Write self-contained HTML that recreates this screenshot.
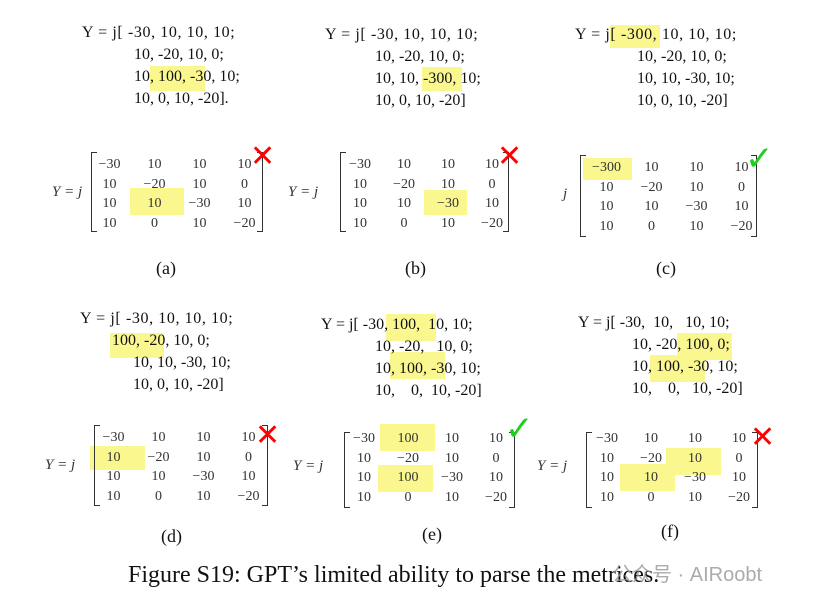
<!DOCTYPE html>
<html><head><meta charset="utf-8"><style>
body{margin:0;width:830px;height:603px;background:#fff;position:relative;overflow:hidden;font-family:"Liberation Serif",serif;color:#111}
.t{position:absolute;white-space:pre;font-size:16px;line-height:22px}
.f{letter-spacing:0.6px}
.h{position:absolute;background:#fbf78f}
.m{position:absolute;border-collapse:collapse;font-size:14px;color:#333}
.m td{padding:0;height:19.5px;line-height:19.5px;text-align:center}
.bl,.br{position:absolute;width:5px;border:1.6px solid #333}
.bl{border-right:none}.br{border-left:none}
.y{position:absolute;font-style:italic;font-size:15px;color:#333}
.lab{position:absolute;font-size:18px}
.x{position:absolute;color:#f00;font-size:30px;font-weight:bold;font-family:"DejaVu Sans",sans-serif;line-height:30px}
.ck{position:absolute;color:#1ed01e;font-size:34px;font-family:"DejaVu Sans",sans-serif;line-height:34px}
</style></head><body>
<div class="h" style="left:150px;top:66px;width:55px;height:25px"></div>
<div class="h" style="left:130px;top:188px;width:54px;height:27px"></div>
<div class="h" style="left:422px;top:67px;width:40px;height:24px"></div>
<div class="h" style="left:424px;top:190px;width:43px;height:25px"></div>
<div class="h" style="left:610px;top:25px;width:50px;height:23px"></div>
<div class="h" style="left:583px;top:158px;width:49px;height:22px"></div>
<div class="h" style="left:110px;top:333px;width:54px;height:25px"></div>
<div class="h" style="left:90px;top:446px;width:55px;height:24px"></div>
<div class="h" style="left:386px;top:314px;width:50px;height:27px"></div>
<div class="h" style="left:390px;top:352px;width:55px;height:27px"></div>
<div class="h" style="left:380px;top:424px;width:55px;height:27px"></div>
<div class="h" style="left:378px;top:465px;width:55px;height:27px"></div>
<div class="h" style="left:677px;top:333px;width:55px;height:27px"></div>
<div class="h" style="left:650px;top:355px;width:55px;height:27px"></div>
<div class="h" style="left:666px;top:448px;width:55px;height:27px"></div>
<div class="h" style="left:620px;top:464px;width:55px;height:27px"></div>

<div class="t f" style="left:82px;top:22px">Y = j[ -30, 10, 10, 10;</div>
<div class="t" style="left:134px;top:44px">10, -20, 10, 0;
10, 100, -30, 10;
10, 0, 10, -20].</div>
<div class="t f" style="left:325px;top:24px">Y = j[ -30, 10, 10, 10;</div>
<div class="t" style="left:375px;top:46px">10, -20, 10, 0;
10, 10, -300, 10;
10, 0, 10, -20]</div>
<div class="t f" style="left:575px;top:24px">Y = j[ -300, 10, 10, 10;</div>
<div class="t" style="left:637px;top:46px">10, -20, 10, 0;
10, 10, -30, 10;
10, 0, 10, -20]</div>
<div class="t f" style="left:80px;top:308px">Y = j[ -30, 10, 10, 10;</div>
<div class="t" style="left:112px;top:330px">100, -20, 10, 0;</div>
<div class="t" style="left:133px;top:352px">10, 10, -30, 10;
10, 0, 10, -20]</div>
<div class="t" style="left:321px;top:314px">Y = j[ -30, 100,  10, 10;</div>
<div class="t" style="left:375px;top:336px">10, -20,   10, 0;
10, 100, -30, 10;
10,    0,  10, -20]</div>
<div class="t" style="left:578px;top:312px">Y = j[ -30,  10,   10, 10;</div>
<div class="t" style="left:632px;top:334px">10, -20, 100, 0;
10, 100, -30, 10;
10,    0,   10, -20]</div>

<div class="y" style="left:52px;top:184px">Y = j</div>
<div class="bl" style="left:91px;top:152px;height:78px"></div>
<div class="br" style="left:257px;top:152px;height:78px"></div>
<table class="m" style="left:87px;top:155px"><tr><td style="width:45px">−30</td><td style="width:45px">10</td><td style="width:45px">10</td><td style="width:45px">10</td></tr><tr><td>10</td><td>−20</td><td>10</td><td>0</td></tr><tr><td>10</td><td>10</td><td>−30</td><td>10</td></tr><tr><td>10</td><td>0</td><td>10</td><td>−20</td></tr></table>
<div class="x" style="left:250px;top:142px">✕</div>
<div class="lab" style="left:156px;top:258px">(a)</div>

<div class="y" style="left:288px;top:184px">Y = j</div>
<div class="bl" style="left:340px;top:152px;height:78px"></div>
<div class="br" style="left:503px;top:152px;height:78px"></div>
<table class="m" style="left:338px;top:155px"><tr><td style="width:44px">−30</td><td style="width:44px">10</td><td style="width:44px">10</td><td style="width:44px">10</td></tr><tr><td>10</td><td>−20</td><td>10</td><td>0</td></tr><tr><td>10</td><td>10</td><td>−30</td><td>10</td></tr><tr><td>10</td><td>0</td><td>10</td><td>−20</td></tr></table>
<div class="x" style="left:497px;top:142px">✕</div>
<div class="lab" style="left:405px;top:258px">(b)</div>

<div class="y" style="left:563px;top:186px">j</div>
<div class="bl" style="left:580px;top:155px;height:80px"></div>
<div class="br" style="left:751px;top:155px;height:80px"></div>
<table class="m" style="left:584px;top:158px"><tr><td style="width:45px">−300</td><td style="width:45px">10</td><td style="width:45px">10</td><td style="width:45px">10</td></tr><tr><td>10</td><td>−20</td><td>10</td><td>0</td></tr><tr><td>10</td><td>10</td><td>−30</td><td>10</td></tr><tr><td>10</td><td>0</td><td>10</td><td>−20</td></tr></table>
<div class="ck" style="left:745px;top:142px">✓</div>
<div class="lab" style="left:656px;top:258px">(c)</div>

<div class="y" style="left:45px;top:457px">Y = j</div>
<div class="bl" style="left:94px;top:425px;height:79px"></div>
<div class="br" style="left:262px;top:425px;height:79px"></div>
<table class="m" style="left:91px;top:428px"><tr><td style="width:45px">−30</td><td style="width:45px">10</td><td style="width:45px">10</td><td style="width:45px">10</td></tr><tr><td>10</td><td>−20</td><td>10</td><td>0</td></tr><tr><td>10</td><td>10</td><td>−30</td><td>10</td></tr><tr><td>10</td><td>0</td><td>10</td><td>−20</td></tr></table>
<div class="x" style="left:255px;top:421px">✕</div>
<div class="lab" style="left:161px;top:526px">(d)</div>

<div class="y" style="left:293px;top:458px">Y = j</div>
<div class="bl" style="left:344px;top:432px;height:74px"></div>
<div class="br" style="left:509px;top:432px;height:74px"></div>
<table class="m" style="left:342px;top:429px"><tr><td style="width:44px">−30</td><td style="width:44px">100</td><td style="width:44px">10</td><td style="width:44px">10</td></tr><tr><td>10</td><td>−20</td><td>10</td><td>0</td></tr><tr><td>10</td><td>100</td><td>−30</td><td>10</td></tr><tr><td>10</td><td>0</td><td>10</td><td>−20</td></tr></table>
<div class="ck" style="left:505px;top:412px">✓</div>
<div class="lab" style="left:422px;top:524px">(e)</div>

<div class="y" style="left:537px;top:458px">Y = j</div>
<div class="bl" style="left:586px;top:432px;height:74px"></div>
<div class="br" style="left:752px;top:432px;height:74px"></div>
<table class="m" style="left:585px;top:429px"><tr><td style="width:44px">−30</td><td style="width:44px">10</td><td style="width:44px">10</td><td style="width:44px">10</td></tr><tr><td>10</td><td>−20</td><td>10</td><td>0</td></tr><tr><td>10</td><td>10</td><td>−30</td><td>10</td></tr><tr><td>10</td><td>0</td><td>10</td><td>−20</td></tr></table>
<div class="x" style="left:750px;top:423px">✕</div>
<div class="lab" style="left:661px;top:521px">(f)</div>

<div style="position:absolute;left:128px;top:561px;white-space:nowrap;font-size:24px;line-height:28px">Figure S19: GPT’s limited ability to parse the metrices.</div>
<div style="position:absolute;left:612px;top:558px;white-space:nowrap;font-family:'Liberation Sans','Noto Sans CJK SC',sans-serif;font-size:20px;color:rgba(150,150,150,0.8)">公众号 · AIRoobt</div>
</body></html>
